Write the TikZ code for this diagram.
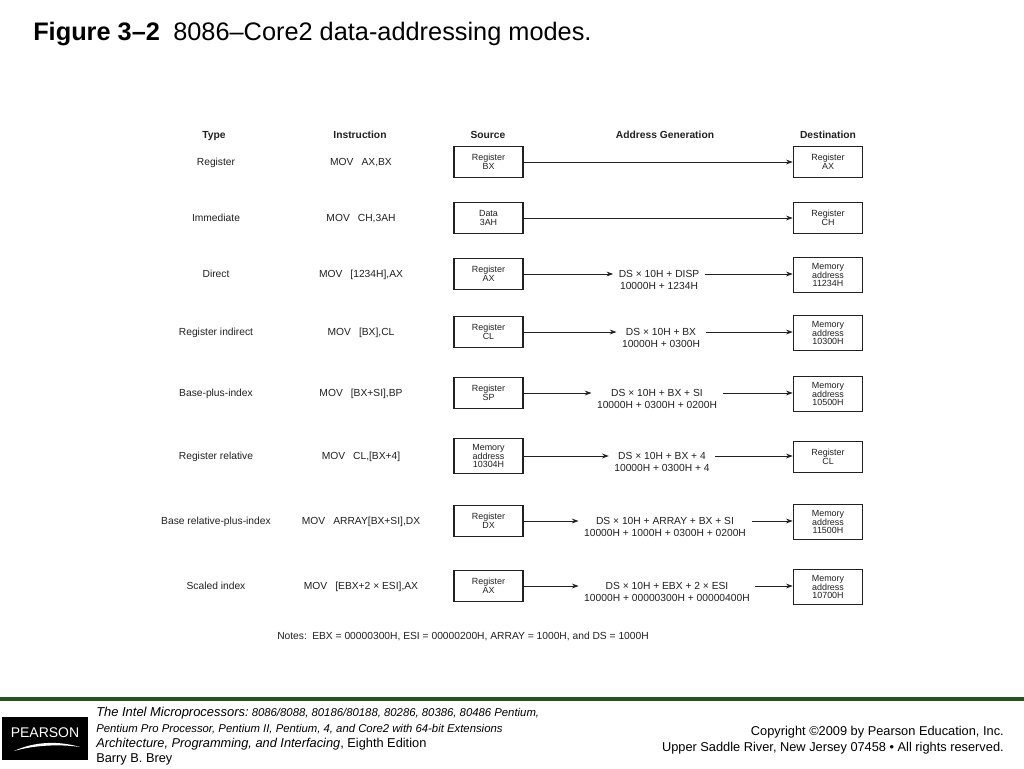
\documentclass[tikz,border=0pt]{standalone}
\usepackage{fontspec}
\setmainfont{Liberation Sans}
\usetikzlibrary{arrows.meta}
\definecolor{ink}{rgb}{0.13,0.13,0.13}
\definecolor{pgreen}{rgb}{0.13,0.33,0.13}
\newcommand{\ins}{\hspace{6pt}}
\begin{document}
\begin{tikzpicture}[x=0.75pt,y=-0.75pt,
  hdr/.style={font=\fontsize{7.7}{9}\selectfont\bfseries, text=ink, inner sep=0pt, anchor=base},
  lbl/.style={font=\fontsize{7.7}{9}\selectfont, text=ink, inner sep=0pt, anchor=base},
  regbox/.style={draw=ink, line width=1.2pt, minimum width=51.75pt, minimum height=23.25pt,
    align=center, font=\fontsize{6.7}{7}\selectfont, text=ink, inner sep=1pt},
  membox/.style={regbox, minimum height=26.5pt, font=\fontsize{6.7}{6.4}\selectfont},
  addr/.style={align=center, font=\fontsize{7.7}{9}\selectfont, text=ink, inner xsep=4pt, inner ysep=0pt},
  arr/.style={draw=ink, line width=0.6pt, -{Stealth[length=5pt,width=3.6pt]}},
  foot/.style={anchor=base west, inner sep=0pt, text=black},
  footr/.style={anchor=base east, inner sep=0pt, text=black, font=\fontsize{9.6}{11}\selectfont}
]
\useasboundingbox (0,0) rectangle (1024,768);
\fill[white] (0,0) rectangle (1024,768);

% title
\node[anchor=base west, inner sep=0pt] (title) at (33,40)
  {\fontsize{19}{22}\selectfont\textbf{Figure 3–2}\hspace{10pt}8086–Core2 data-addressing modes.};

% headers
\node[hdr] (hType) at (214,138) {Type};
\node[hdr] (hIns) at (360,138) {Instruction};
\node[hdr] (hSrc) at (488,138) {Source};
\node[hdr] (hAddr) at (665,138) {Address Generation};
\node[hdr] (hDst) at (828,138) {Destination};

% row 1
\node[lbl] (t1) at (216,165.5) {Register};
\node[lbl] (i1) at (361,165.5) {MOV\ins AX,BX};
\node[regbox] (s1) at (488.5,162) {Register\\BX};
\node[regbox] (d1) at (828,162) {Register\\AX};
\draw[arr] (s1) -- (d1);

% row 2
\node[lbl] (t2) at (216,221.5) {Immediate};
\node[lbl] (i2) at (361,221.5) {MOV\ins CH,3AH};
\node[regbox] (s2) at (488.5,218) {Data\\3AH};
\node[regbox] (d2) at (828,218) {Register\\CH};
\draw[arr] (s2) -- (d2);

% row 3
\node[lbl] (t3) at (216,277.5) {Direct};
\node[lbl] (i3) at (361,277.5) {MOV\ins [1234H],AX};
\node[regbox] (s3) at (488.5,274) {Register\\AX};
\node[addr] (a3) at (659,280) {DS × 10H + DISP\\10000H + 1234H};
\node[membox] (d3) at (828,275) {Memory\\address\\11234H};
\draw[arr] (s3.east) -- (s3.east -| a3.west);
\draw[arr] (a3.east |- s3.east) -- (d3.west |- s3.east);

% row 4
\node[lbl] (t4) at (216,335.5) {Register indirect};
\node[lbl] (i4) at (361,335.5) {MOV\ins [BX],CL};
\node[regbox] (s4) at (488.5,332) {Register\\CL};
\node[addr] (a4) at (661,338) {DS × 10H + BX\\10000H + 0300H};
\node[membox] (d4) at (828,333) {Memory\\address\\10300H};
\draw[arr] (s4.east) -- (s4.east -| a4.west);
\draw[arr] (a4.east |- s4.east) -- (d4.west |- s4.east);

% row 5
\node[lbl] (t5) at (216,396.5) {Base-plus-index};
\node[lbl] (i5) at (361,396.5) {MOV\ins [BX+SI],BP};
\node[regbox] (s5) at (488.5,393) {Register\\SP};
\node[addr] (a5) at (657,399) {DS × 10H + BX + SI\\10000H + 0300H + 0200H};
\node[membox] (d5) at (828,394) {Memory\\address\\10500H};
\draw[arr] (s5.east) -- (s5.east -| a5.west);
\draw[arr] (a5.east |- s5.east) -- (d5.west |- s5.east);

% row 6
\node[lbl] (t6) at (216,459.5) {Register relative};
\node[lbl] (i6) at (361,459.5) {MOV\ins CL,[BX+4]};
\node[membox] (s6) at (488.5,456) {Memory\\address\\10304H};
\node[addr] (a6) at (662,462) {DS × 10H + BX + 4\\10000H + 0300H + 4};
\node[regbox] (d6) at (828,457) {Register\\CL};
\draw[arr] (s6.east) -- (s6.east -| a6.west);
\draw[arr] (a6.east |- s6.east) -- (d6.west |- s6.east);

% row 7
\node[lbl] (t7) at (216,524.5) {Base relative-plus-index};
\node[lbl] (i7) at (361,524.5) {MOV\ins ARRAY[BX+SI],DX};
\node[regbox] (s7) at (488.5,521) {Register\\DX};
\node[addr] (a7) at (665,527) {DS × 10H + ARRAY + BX + SI\\10000H + 1000H + 0300H + 0200H};
\node[membox] (d7) at (828,522) {Memory\\address\\11500H};
\draw[arr] (s7.east) -- (s7.east -| a7.west);
\draw[arr] (a7.east |- s7.east) -- (d7.west |- s7.east);

% row 8
\node[lbl] (t8) at (216,589.5) {Scaled index};
\node[lbl] (i8) at (361,589.5) {MOV\ins [EBX+2 × ESI],AX};
\node[regbox] (s8) at (488.5,586) {Register\\AX};
\node[addr] (a8) at (667,592) {DS × 10H + EBX + 2 × ESI\\10000H + 00000300H + 00000400H};
\node[membox] (d8) at (828,587) {Memory\\address\\10700H};
\draw[arr] (s8.east) -- (s8.east -| a8.west);
\draw[arr] (a8.east |- s8.east) -- (d8.west |- s8.east);

% notes
\node[lbl, anchor=base west] (notes) at (277,639.5)
  {Notes:\hspace{4pt}EBX = 00000300H, ESI = 00000200H, ARRAY = 1000H, and DS = 1000H};

% footer
\draw[pgreen, line width=3pt] (0,699) -- (1024,699);
\fill[black] (2,717) rectangle (88,760);
\node[text=white, inner sep=0pt, font=\fontsize{10.5}{12}\selectfont] (logo) at (45,733) {PEARSON};
\fill[white] (14,751) .. controls (35,741) and (60,741) .. (80,747)
  .. controls (60,744) and (35,745) .. (14,751) -- cycle;

\node[foot] (f1) at (96,716) {\itshape\fontsize{9.7}{11}\selectfont The Intel Microprocessors:\fontsize{8.5}{10}\selectfont\ 8086/8088, 80186/80188, 80286, 80386, 80486 Pentium,};
\node[foot] (f2) at (96,732) {\itshape\fontsize{8.5}{10}\selectfont Pentium Pro Processor, Pentium II, Pentium, 4, and Core2 with 64-bit Extensions};
\node[foot] (f3) at (96,747) {\fontsize{9.6}{11}\selectfont\textit{Architecture, Programming, and Interfacing}, Eighth Edition};
\node[foot] (f4) at (96,762) {\fontsize{9.6}{11}\selectfont Barry B. Brey};
\node[footr] (r1) at (1004,735) {Copyright ©2009 by Pearson Education, Inc.};
\node[footr] (r2) at (1004,751) {Upper Saddle River, New Jersey 07458 • All rights reserved.};
\end{tikzpicture}
\end{document}
